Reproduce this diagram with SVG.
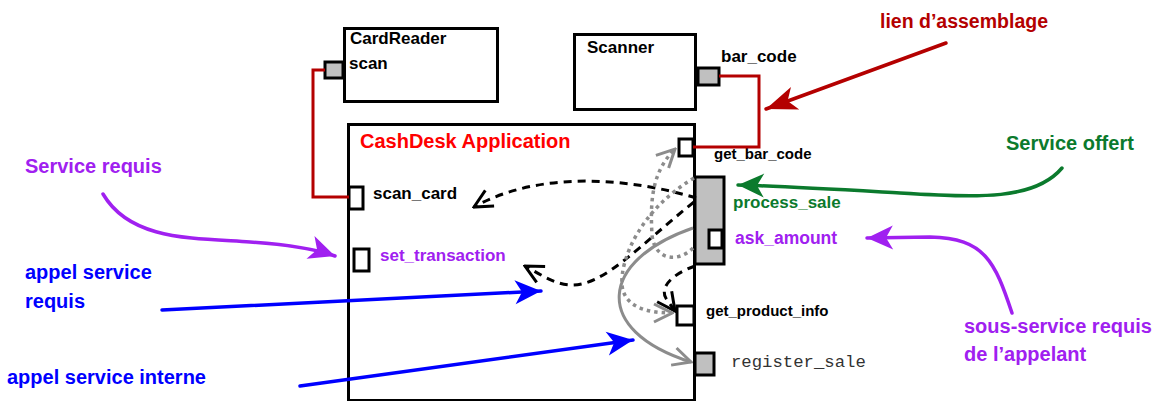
<svg xmlns="http://www.w3.org/2000/svg" width="1157" height="401" viewBox="0 0 1157 401">
<style>
  text { font-family: "Liberation Sans", Arial, sans-serif; font-weight: bold; }
  .box { fill: #fff; stroke: #000; stroke-width: 3; }
  .port { fill: #fff; stroke: #000; stroke-width: 3; }
  .gport { fill: #c0c0c0; stroke: #000; stroke-width: 3; }
  .asm { fill: none; stroke: #b40000; stroke-width: 3; }
  .dash { fill: none; stroke: #000; stroke-width: 3; stroke-dasharray: 8 6; }
  .dot { fill: none; stroke: #8c8c8c; stroke-width: 3.5; stroke-dasharray: 3.5 4; }
  .gsolid { fill: none; stroke: #8c8c8c; stroke-width: 3; }
  .note { fill: none; stroke-width: 3.5; stroke-linecap: round; }
</style>
<defs>
  <marker id="hRed" markerUnits="userSpaceOnUse" viewBox="-32 -14 34 28" refX="0" refY="0" markerWidth="34" markerHeight="28" orient="auto">
    <path d="M0,0 L-31,-12 L-23,0 L-31,12 Z" fill="#b40000"/>
  </marker>
  <marker id="hBlue" markerUnits="userSpaceOnUse" viewBox="-30 -13 32 26" refX="0" refY="0" markerWidth="32" markerHeight="26" orient="auto">
    <path d="M0,0 L-26,-12 L-19,0 L-26,12 Z" fill="#0000ff"/>
  </marker>
  <marker id="hGreen" markerUnits="userSpaceOnUse" viewBox="-30 -13 32 26" refX="0" refY="0" markerWidth="32" markerHeight="26" orient="auto">
    <path d="M0,0 L-26,-12 L-19,0 L-26,12 Z" fill="#0b7a2d"/>
  </marker>
  <marker id="hPurple" markerUnits="userSpaceOnUse" viewBox="-30 -13 32 26" refX="0" refY="0" markerWidth="32" markerHeight="26" orient="auto">
    <path d="M0,0 L-26,-12 L-19,0 L-26,12 Z" fill="#a020f0"/>
  </marker>
  <marker id="oBlack" markerUnits="userSpaceOnUse" viewBox="-20 -12 22 24" refX="0" refY="0" markerWidth="22" markerHeight="24" orient="auto">
    <path d="M-18,-9 L0,0 L-18,9" fill="none" stroke="#000" stroke-width="3"/>
  </marker>
  <marker id="oGray" markerUnits="userSpaceOnUse" viewBox="-20 -12 22 24" refX="0" refY="0" markerWidth="22" markerHeight="24" orient="auto">
    <path d="M-18,-9 L0,0 L-18,9" fill="none" stroke="#8c8c8c" stroke-width="3"/>
  </marker>
</defs>

<g id="cashdesk">
  <rect class="box" x="348.5" y="124.5" width="346" height="276"/>
  <text x="360" y="148" font-size="20" fill="#ff0000">CashDesk Application</text>
</g>

<g id="cardreader">
  <rect class="box" x="344.5" y="28.5" width="153" height="73"/>
  <text x="350" y="44" font-size="17" fill="#000">CardReader</text>
  <text x="349" y="69" font-size="17" fill="#000">scan</text>
  <rect class="gport" x="325" y="62" width="18" height="16"/>
</g>

<g id="scanner">
  <rect class="box" x="574.5" y="34.5" width="121" height="75"/>
  <text x="587" y="53" font-size="17" fill="#000">Scanner</text>
  <text x="721" y="62" font-size="17" fill="#000">bar_code</text>
  <rect class="gport" x="698" y="68" width="21" height="17"/>
</g>

<g id="port-get_bar_code">
  <rect class="port" x="679" y="139" width="14" height="17"/>
  <text x="714" y="159" font-size="15" fill="#000">get_bar_code</text>
</g>
<g id="port-scan_card">
  <rect class="port" x="349" y="187" width="14" height="22"/>
  <text x="373" y="199" font-size="17" fill="#000">scan_card</text>
</g>
<g id="port-set_transaction">
  <rect class="port" x="354" y="249" width="15" height="22"/>
  <text x="380" y="261" font-size="17" fill="#a020f0">set_transaction</text>
</g>
<g id="port-process_sale">
  <rect class="gport" x="695" y="177" width="29" height="87"/>
  <text x="733" y="208" font-size="17" fill="#0b7a2d">process_sale</text>
</g>
<g id="port-ask_amount">
  <rect class="port" x="709" y="230" width="13" height="18"/>
  <text x="735" y="244" font-size="17.5" fill="#a020f0">ask_amount</text>
</g>
<g id="port-get_product_info">
  <rect class="port" x="677" y="306" width="17" height="19"/>
  <text x="706" y="316" font-size="15" fill="#000">get_product_info</text>
</g>
<g id="port-register_sale">
  <rect class="gport" x="695" y="353" width="19" height="22"/>
  <text x="731" y="367" font-size="17.3" fill="#333" style="font-family:'Liberation Mono','Courier New',monospace;font-weight:normal">register_sale</text>
</g>

<g id="labels">
  <text x="880" y="28" font-size="19.5" fill="#b40000">lien d’assemblage</text>
  <text x="1006" y="150" font-size="20" fill="#0b7a2d">Service offert</text>
  <text x="25" y="173" font-size="20" fill="#a020f0">Service requis</text>
  <text x="25" y="279" font-size="20" fill="#0000ff">appel service</text>
  <text x="25" y="308" font-size="20" fill="#0000ff">requis</text>
  <text x="7" y="384" font-size="20" fill="#0000ff">appel service interne</text>
  <text x="964" y="333" font-size="20" fill="#a020f0">sous-service requis</text>
  <text x="964" y="361" font-size="20" fill="#a020f0">de l’appelant</text>
</g>

<g id="connectors">
  <path class="asm" d="M325,70 H313 V197 H349"/>
  <path class="asm" d="M719,76 H759 V147 H693"/>

  <path class="dash" d="M696,198 C630,178 540,170 474,207" marker-end="url(#oBlack)"/>
  <path class="dash" d="M694,202 C640,245 605,285 572,285 C555,285 540,274 525,266" marker-end="url(#oBlack)"/>
  <path class="dash" d="M695,266 C672,274 658,288 667,300 L675,311" marker-end="url(#oBlack)"/>

  <path class="dot" d="M694,178 C640,210 620,260 622,285 C624,306 645,313 672,313" marker-end="url(#oGray)"/>
  <path class="dot" d="M693,248 C680,262 655,262 652,235 C650,200 652,172 675,149" marker-end="url(#oGray)"/>
  <path class="gsolid" d="M693,228 C600,260 590,330 691,362" marker-end="url(#oGray)"/>

  <path class="note" stroke="#b40000" d="M946,43 L766,109" marker-end="url(#hRed)"/>
  <path class="note" stroke="#0b7a2d" d="M1062,168 C1035,200 980,198 900,193 C830,189 780,186 738,185" marker-end="url(#hGreen)"/>
  <path class="note" stroke="#a020f0" d="M1012,313 C995,262 985,238 930,237 L867,238" marker-end="url(#hPurple)"/>
  <path class="note" stroke="#a020f0" d="M103,194 C130,240 190,238 250,242 C295,245 318,250 335,256" marker-end="url(#hPurple)"/>
  <path class="note" stroke="#0000ff" d="M162,310 L541,291" marker-end="url(#hBlue)"/>
  <path class="note" stroke="#0000ff" d="M300,386 L633,340" marker-end="url(#hBlue)"/>
</g>
</svg>
